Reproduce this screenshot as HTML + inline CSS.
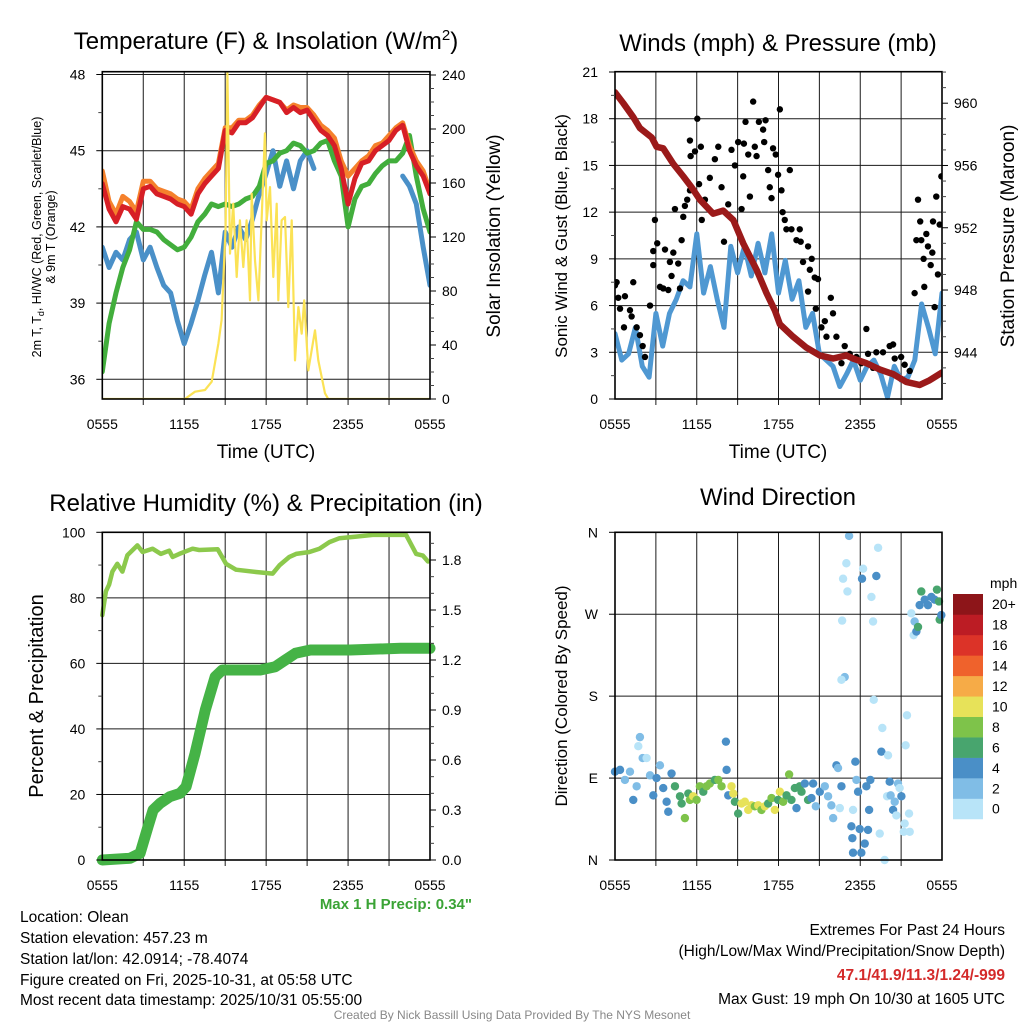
<!DOCTYPE html>
<html><head><meta charset="utf-8"><title>Mesonet Olean</title>
<style>
html,body{margin:0;padding:0;background:#fff;}
svg{display:block;font-family:"Liberation Sans",Arial,sans-serif;}
</style></head>
<body>
<svg id="chart" width="1024" height="1024" viewBox="0 0 1024 1024" xmlns="http://www.w3.org/2000/svg">
<rect x="0" y="0" width="1024" height="1024" fill="#fff"/>
<text x="266" y="49" font-size="24" text-anchor="middle">Temperature (F) &amp; Insolation (W/m<tspan font-size="15" dy="-9">2</tspan><tspan dy="9">)</tspan></text>
<text x="778" y="51" font-size="24" text-anchor="middle">Winds (mph) &amp; Pressure (mb)</text>
<text x="266" y="511" font-size="24" text-anchor="middle">Relative Humidity (%) &amp; Precipitation (in)</text>
<text x="778" y="505" font-size="24" text-anchor="middle">Wind Direction</text>
<text x="266" y="458" font-size="19" text-anchor="middle">Time (UTC)</text>
<text x="778" y="458" font-size="19" text-anchor="middle">Time (UTC)</text>
<text transform="translate(41,237) rotate(-90)" font-size="12.5" text-anchor="middle">2m T, T<tspan font-size="9" dy="3">d</tspan><tspan dy="-3">, HI/WC (Red, Green, Scarlet/Blue)</tspan></text>
<text transform="translate(55,237) rotate(-90)" font-size="12.5" text-anchor="middle">&amp; 9m T (Orange)</text>
<text transform="translate(500,236) rotate(-90)" font-size="19" text-anchor="middle">Solar Insolation (Yellow)</text>
<text transform="translate(567,236) rotate(-90)" font-size="17" text-anchor="middle">Sonic Wind &amp; Gust (Blue, Black)</text>
<text transform="translate(1014,236) rotate(-90)" font-size="19" text-anchor="middle">Station Pressure (Maroon)</text>
<text transform="translate(43,696) rotate(-90)" font-size="20" text-anchor="middle">Percent &amp; Precipitation</text>
<text transform="translate(567,696) rotate(-90)" font-size="17" text-anchor="middle">Direction (Colored By Speed)</text>
<text x="472" y="909" font-size="15" font-weight="bold" fill="#3aa335" text-anchor="end">Max 1 H Precip: 0.34"</text>
<g font-size="15.5">
<text x="20" y="922">Location: Olean</text>
<text x="20" y="943">Station elevation: 457.23 m</text>
<text x="20" y="964">Station lat/lon: 42.0914; -78.4074</text>
<text x="20" y="985">Figure created on Fri, 2025-10-31, at 05:58 UTC</text>
<text x="20" y="1005">Most recent data timestamp: 2025/10/31 05:55:00</text>
</g>
<g font-size="15.5" text-anchor="end">
<text x="1005" y="935">Extremes For Past 24 Hours</text>
<text x="1005" y="956">(High/Low/Max Wind/Precipitation/Snow Depth)</text>
<text x="1005" y="980" font-weight="bold" fill="#d42a2a">47.1/41.9/11.3/1.24/-999</text>
<text x="1005" y="1004">Max Gust: 19 mph On 10/30 at 1605 UTC</text>
</g>
<text x="512" y="1019" font-size="12" fill="#888" text-anchor="middle">Created By Nick Bassill Using Data Provided By The NYS Mesonet</text>
<text x="990" y="588" font-size="14">mph</text>
</svg>
<script>
const timeLabels = ['0555','1155','1755','2355','0555'];
const timeTickHours = [0,6,12,18,24];
const tempTicks = [36,39,42,45,48];
const insolTicks = [0,40,80,120,160,200,240];
const windTicks = [0,3,6,9,12,15,18,21];
const pressTicks = [944,948,952,956,960];
const rhTicks = [0,20,40,60,80,100];
const precipTicks = ['0.0','0.3','0.6','0.9','1.2','1.5','1.8'];
const dirLabels = ['N','E','S','W','N'];
const dirTickDeg = [0,90,180,270,360];
const speedBins = ['0','2','4','6','8','10','12','14','16','18','20+'];
const speedColors = ['#b8e4f8','#80bde6','#4a8fc7','#48a56e','#7ec34a','#e7e259','#f6ab47','#ef622c','#dc3328','#bc1c24','#8d1519'];

const tempRed = [43.7,42.7,42.2,42.8,42.7,42.3,43.5,43.6,43.3,43.2,43.1,42.9,42.8,42.5,43.3,43.7,44.0,44.3,45.8,45.7,46.1,46.1,46.3,46.7,47.1,47.0,46.9,46.5,46.7,46.5,46.6,46.2,45.8,45.6,45.2,44.3,42.9,43.9,44.5,44.6,45.0,45.2,45.4,45.8,46.0,45.0,44.4,44.0,43.3];
const tempOrange = [44.2,43.0,42.5,43.2,43.0,42.6,43.8,43.8,43.5,43.4,43.3,43.1,43.0,42.7,43.5,43.9,44.2,44.5,45.9,45.9,46.2,46.2,46.4,46.8,47.1,47.0,46.9,46.6,46.8,46.7,46.7,46.4,46.0,45.8,45.5,44.6,44.0,44.3,44.6,44.8,45.2,45.3,45.6,45.9,46.1,45.2,44.6,44.2,43.4];
const dewGreen = [36.3,38.2,39.4,40.4,41.1,42.2,41.9,41.9,41.8,41.5,41.3,41.1,41.2,41.6,42.2,42.5,42.9,42.8,42.9,42.8,42.9,43.1,43.2,43.6,44.5,44.6,44.9,45.0,45.3,45.2,44.9,45.0,45.3,45.4,44.6,44.0,42.0,43.1,43.6,43.7,44.1,44.4,44.6,44.6,44.9,45.6,44.0,42.7,41.8];
const tempBlue = [41.2,40.4,41.0,40.7,41.5,41.8,40.7,41.2,40.4,39.7,39.4,38.3,37.4,38.2,39.1,40.1,41.0,39.4,41.8,41.2,42.0,41.5,42.3,43.3,44.1,45.0,43.6,44.6,43.5,44.6,45.0,44.3,null,null,null,null,null,null,null,null,null,null,null,null,44.0,43.6,42.9,41.2,39.7];
const insolHours = [0,6.05,6.79,7.52,8.01,8.5,8.74,9.03,9.16,9.35,9.59,9.84,10.08,10.33,10.57,10.82,10.94,11.18,11.43,11.67,11.91,12.04,12.28,12.52,12.77,12.89,13.13,13.38,13.62,13.87,14.11,14.36,14.6,14.79,15.09,15.58,15.82,16.31,16.55,24];
const insolValues = [0,0,5.4,6.7,12.8,41.2,58.5,127,242,107.7,144.7,90.4,132.3,97.8,132.3,73.1,152.1,102.7,73.1,132.3,196.8,132.3,157,90.4,144.7,73.1,132.3,134.8,68.1,132.3,28.6,68.1,48.4,73.1,21.2,50.9,28.6,4.2,0,0];

const windSpeed = [4.2,2.5,2.9,4.6,2.1,1.4,5.5,3.4,5.5,6.4,7.6,7.2,10.6,6.8,8.5,6.4,4.6,9.8,8.1,9.8,7.9,10.0,8.1,10.6,6.8,8.9,6.4,7.6,4.6,5.5,2.9,2.5,2.1,0.8,1.6,2.5,1.2,2.1,2.5,1.6,0.1,2.1,1.2,1.4,2.5,6.1,4.6,2.9,6.8];
const gustHours = [0,0.12,0.24,0.37,0.66,0.73,1.1,1.22,1.34,1.59,1.83,2.03,2.2,2.57,2.81,2.81,2.93,3.1,3.3,3.54,3.67,3.91,4.03,4.15,4.28,4.4,4.64,4.77,4.89,5.01,5.13,5.3,5.5,5.55,5.5,5.87,6.04,6.17,6.3,6.37,6.6,6.96,7.33,7.58,7.82,8.0,8.31,8.55,8.8,9.04,9.29,9.41,9.46,9.58,9.78,9.9,10.14,10.26,10.39,10.56,10.87,10.95,11.05,11.24,11.36,11.49,11.6,11.8,11.97,12.1,12.22,12.3,12.46,12.58,12.83,12.95,13.32,13.56,13.63,13.8,14.17,14.3,14.44,14.66,14.9,14.17,14.74,15.15,15.4,15.52,15.84,16.0,16.25,16.62,16.86,17.23,17.72,18.08,18.45,18.57,18.94,19.18,19.67,20.16,20.41,20.53,21.0,21.26,21.63,21.99,22.12,22.24,22.4,22.48,22.65,22.7,22.85,22.97,23.17,23.29,23.34,23.46,23.58,23.7,23.83,23.95];
const gustValues = [7.3,7.5,6.5,5.8,4.6,6.6,5.7,5.3,7.5,4.6,4.1,3.4,2.7,6.0,8.6,9.5,11.5,10.0,7.2,7.1,9.6,7.0,8.8,7.9,9.4,12.2,8.7,7.1,10.2,11.7,12.4,12.8,13.4,15.6,16.6,15.9,18.0,13.8,16.2,11.5,12.8,14.2,15.4,16.2,13.6,10.1,12.5,16.0,15.0,16.5,12.2,14.3,16.4,17.8,15.7,13.0,19.1,16.2,15.6,17.8,17.3,16.5,17.9,14.7,13.6,12.9,16.1,15.7,14.4,18.6,13.4,12.0,11.5,10.9,14.7,10.9,10.2,10.9,10.1,8.8,9.8,8.3,9.0,7.8,7.7,6.9,5.8,4.6,5.0,4.0,6.5,5.5,4.0,2.3,3.4,2.9,2.7,2.3,4.5,2.9,2.0,3.0,3.0,3.4,3.5,2.6,2.7,2.2,1.8,6.8,10.2,12.8,11.4,10.2,9.0,7.2,10.6,9.8,8.6,9.4,11.4,5.9,13.0,8.0,11.2,14.3];
const pressHours = [0,0.61,1.34,1.83,2.69,3.05,3.54,4.28,5.01,5.62,6.23,7.21,7.94,8.68,9.41,10.39,11.12,11.73,12.1,13.07,14.05,15.03,16.01,16.98,17.47,18.45,19.43,20.41,21.38,22.36,23.09,24];
const pressValues = [960.7,960.0,959.1,958.4,957.8,957.2,957.1,956.1,955.3,954.6,953.8,952.9,953.1,952.5,951.0,949.3,947.8,946.7,945.8,945.0,944.3,943.8,943.6,943.8,943.6,943.3,942.9,942.6,942.1,941.9,942.2,942.7];

const rhHours = [0,0.26,0.5,0.74,1.1,1.47,1.84,2.57,2.95,3.68,4.29,4.9,5.15,5.64,6.61,7.1,8.45,9.06,9.79,11.26,12.48,12.97,13.7,14.19,15.17,15.9,16.63,17.37,18.59,19.81,22.25,22.99,23.48,23.85];
const rhValues = [74.7,82,84,88,90.4,88,93,96,94,95,93.4,94.4,92.5,93.4,95,94.6,94.8,90.4,88.6,87.9,87.4,89.9,92.5,93.4,94,95,97,98.2,98.7,99.2,99.2,93.4,92.9,91.1];
const precipHours = [0,2.03,2.77,3.35,3.72,4.23,4.94,5.7,6.14,6.8,7.54,8.27,8.79,10.1,11.57,12.67,13.4,14.14,15.24,18.18,21.85,24];
const precipValues = [0,0.01,0.04,0.2,0.3,0.34,0.38,0.4,0.44,0.64,0.9,1.1,1.14,1.14,1.14,1.16,1.2,1.24,1.26,1.26,1.27,1.27];

const dirHours = [0,0.37,0.73,1.1,1.34,1.59,1.83,1.71,2.03,2.32,2.57,2.81,3.05,3.3,3.54,3.79,3.91,4.15,4.4,4.77,4.89,5.13,5.38,5.5,5.74,5.99,6.23,6.48,6.72,6.96,7.33,7.58,7.82,8.14,8.19,8.31,8.55,8.68,8.8,9.04,9.29,9.53,9.78,10.02,10.26,10.51,10.75,11.0,11.24,11.49,11.73,11.97,12.1,12.34,12.59,12.78,12.95,13.2,13.32,13.56,13.69,13.93,14.17,14.42,14.54,14.74,15.03,15.4,15.64,15.88,16.01,16.25,16.37,16.5,16.62,16.86,16.62,16.67,16.74,16.98,17.06,17.18,17.47,17.35,17.42,17.47,17.64,17.72,17.84,17.96,18.08,18.13,18.21,18.33,18.45,18.57,18.65,18.74,18.82,18.94,18.99,19.18,19.31,19.43,19.55,19.62,19.79,19.97,20.04,20.16,20.23,20.41,20.53,20.65,20.77,20.89,21.02,21.19,21.26,21.33,21.43,21.58,21.63,21.75,21.92,21.99,22.12,22.24,22.36,22.48,22.73,22.97,23.22,23.46,23.63,23.78,23.83,23.95];
const dirDegrees = [97,99,88,97,66,81,135,125,112,112,93,71,90,104,79,64,53,95,81,70,62,46,73,66,70,66,81,75,81,84,88,88,81,130,99,71,81,73,64,51,62,64,55,60,59,60,55,59,62,68,55,66,75,64,71,94,66,79,57,81,75,84,66,68,84,59,75,81,70,60,46,104,101,57,81,201,198,263,309,326,295,356,55,37,24,8,108,88,75,34,8,309,320,18,81,33,55,88,289,262,176,312,343,29,119,145,0,70,115,86,71,55,64,49,84,79,70,31,40,126,159,51,31,271,247,262,251,256,280,295,286,280,289,286,297,284,264,269];
const dirSpeeds = [5,5,3,3,5,3,3,1,3,1,3,5,5,3,5,5,5,5,7,7,7,9,7,9,11,9,9,7,9,9,7,9,9,5,5,5,11,11,7,7,11,11,11,11,9,11,9,11,7,9,11,7,11,9,7,9,7,7,5,7,7,5,7,5,5,3,5,3,3,3,3,5,3,1,5,3,1,1,1,1,1,3,1,5,5,5,5,3,5,5,5,5,1,5,5,5,5,5,1,1,1,5,1,1,5,1,1,1,1,5,3,5,3,1,3,1,5,1,1,1,1,1,1,1,1,3,5,7,5,7,5,5,5,5,7,7,7,5];

const NS = 'http://www.w3.org/2000/svg';
const svg = document.getElementById('chart');
function mk(tag, attrs, name, parent) {
  const el = document.createElementNS(NS, tag);
  for (const k in attrs) el.setAttribute(k, attrs[k]);
  
  
  (parent || svg).appendChild(el);
  return el;
}
function lin(d0, d1, r0, r1) { return v => r0 + (v - d0) / (d1 - d0) * (r1 - r0); }

const P = {
  tl: {x0:102.3, x1:430, y0:71.7, y1:399},
  tr: {x0:615, x1:942, y0:71.7, y1:399},
  bl: {x0:102.3, x1:430, y0:532.3, y1:860},
  br: {x0:615, x1:942, y0:532.3, y1:860}
};
const xTL = lin(0, 24, P.tl.x0, P.tl.x1);
const xTR = lin(0, 24, P.tr.x0, P.tr.x1);
const yTemp = lin(36, 48, 379.3, 74.5);
const yIns = lin(0, 240, 399, 75);
const yWind = lin(0, 21, 399, 72);
const yPress = lin(944, 960, 352.3, 103.2);
const yRH = lin(0, 100, 860, 532.3);
const yPr = lin(0, 1.8, 860, 560);
const yDir = lin(0, 360, 860, 532.3);

function pathFrom(xs, ys) {
  let d = '', pen = false;
  for (let i = 0; i < xs.length; i++) {
    if (ys[i] === null) { pen = false; continue; }
    d += (pen ? 'L' : 'M') + xs[i].toFixed(1) + ',' + ys[i].toFixed(1);
    pen = true;
  }
  return d;
}
function idxHours(arr) { return arr.map((v, i) => i * 24 / (arr.length - 1)); }

function frame(p, key, vGrid, hGridYs, xMap) {
  const g = mk('g', {}, key + '-axes');
  hGridYs.forEach(y => {
    mk('line', {x1:p.x0, x2:p.x1, y1:y, y2:y, stroke:'#1a1a1a', 'stroke-width':1}, key + '-h-gridline', g);
  });
  vGrid.forEach(h => {
    const x = xMap(h);
    mk('line', {x1:x, x2:x, y1:p.y0, y2:p.y1 + 6, stroke:'#1a1a1a', 'stroke-width':1}, key + '-v-gridline', g);
  });
  return g;
}
function borderBox(p, key) {
  mk('rect', {x:p.x0, y:p.y0, width:p.x1 - p.x0, height:p.y1 - p.y0, fill:'none', stroke:'#000', 'stroke-width':1.6}, key + '-plot-frame');
}
function leftTicks(p, key, vals, ymap, labels, minor) {
  const g = mk('g', {'font-size':14, 'text-anchor':'end'}, key + '-left-axis');
  vals.forEach((v, i) => {
    const y = ymap(v);
    mk('line', {x1:p.x0 - 6, x2:p.x0, y1:y, y2:y, stroke:'#000', 'stroke-width':1}, key + '-left-tick', g);
    const t = mk('text', {x:p.x0 - 17, y:y + 5}, key + '-left-tick-label', g);
    t.textContent = labels ? labels[i] : v;
  });
  (minor || []).forEach(v => {
    const y = ymap(v);
    mk('line', {x1:p.x0 - 4, x2:p.x0, y1:y, y2:y, stroke:'#444', 'stroke-width':1}, key + '-left-minor-tick', g);
  });
}
function rightTicks(p, key, vals, ymap, labels, minor) {
  const g = mk('g', {'font-size':14, 'text-anchor':'start'}, key + '-right-axis');
  vals.forEach((v, i) => {
    const y = ymap(v);
    mk('line', {x1:p.x1, x2:p.x1 + 6, y1:y, y2:y, stroke:'#000', 'stroke-width':1}, key + '-right-tick', g);
    const t = mk('text', {x:p.x1 + 12, y:y + 5}, key + '-right-tick-label', g);
    t.textContent = labels ? labels[i] : v;
  });
  (minor || []).forEach(v => {
    const y = ymap(v);
    mk('line', {x1:p.x1, x2:p.x1 + 4, y1:y, y2:y, stroke:'#444', 'stroke-width':1}, key + '-right-minor-tick', g);
  });
}
function bottomLabels(p, key, xMap, off) {
  const g = mk('g', {'font-size':14, 'text-anchor':'middle'}, key + '-x-axis');
  timeTickHours.forEach((h, i) => {
    const t = mk('text', {x:xMap(h), y:p.y1 + off}, key + '-x-tick-label', g);
    t.textContent = timeLabels[i];
  });
}
const vHours = [3,6,9,12,15,18,21];
function range(a, b, s) { const r = []; for (let v = a; v <= b + 1e-9; v += s) r.push(+v.toFixed(3)); return r; }

frame(P.tl, 'temp', vHours, tempTicks.map(yTemp), xTL);
const tlClip = mk('clipPath', {id:'clipTL'}, 'temp-clip');
mk('rect', {x:P.tl.x0, y:P.tl.y0 - 2, width:P.tl.x1 - P.tl.x0, height:P.tl.y1 - P.tl.y0 + 2}, 'temp-clip-rect', tlClip);
const gTL = mk('g', {'clip-path':'url(#clipTL)', fill:'none', 'stroke-linejoin':'round', 'stroke-linecap':'round'}, 'temp-series');
mk('path', {d:pathFrom(idxHours(tempBlue).map(xTL), tempBlue.map(v => v === null ? null : yTemp(v))), stroke:'#4a90c8', 'stroke-width':5}, 'temp-9m-blue-line', gTL);
mk('path', {d:pathFrom(idxHours(dewGreen).map(xTL), dewGreen.map(yTemp)), stroke:'#42ae3c', 'stroke-width':5}, 'dewpoint-green-line', gTL);
mk('path', {d:pathFrom(idxHours(tempOrange).map(xTL), tempOrange.map(yTemp)), stroke:'#f5812c', 'stroke-width':5}, 'temp-orange-line', gTL);
mk('path', {d:pathFrom(idxHours(tempRed).map(xTL), tempRed.map(yTemp)), stroke:'#d71f26', 'stroke-width':5}, 'temp-red-line', gTL);
mk('path', {d:pathFrom(insolHours.map(xTL), insolValues.map(yIns)), stroke:'#fbe255', 'stroke-width':2.2}, 'insolation-yellow-line', gTL);
borderBox(P.tl, 'temp');
leftTicks(P.tl, 'temp', tempTicks, yTemp, null, [37.5,40.5,43.5,46.5]);
rightTicks(P.tl, 'insolation', insolTicks, yIns, null, range(10, 230, 10).filter(v => v % 40));
bottomLabels(P.tl, 'temp', xTL, 30);

frame(P.tr, 'wind', vHours, windTicks.slice(1, 7).map(yWind), xTR);
const trClip = mk('clipPath', {id:'clipTR'}, 'wind-clip');
mk('rect', {x:P.tr.x0, y:P.tr.y0, width:P.tr.x1 - P.tr.x0, height:P.tr.y1 - P.tr.y0 + 3}, 'wind-clip-rect', trClip);
const gTR = mk('g', {'clip-path':'url(#clipTR)', 'stroke-linejoin':'round', 'stroke-linecap':'round'}, 'wind-series');
mk('path', {d:pathFrom(idxHours(windSpeed).map(xTR), windSpeed.map(yWind)), stroke:'#4f98d2', 'stroke-width':5, fill:'none'}, 'sonic-wind-line', gTR);
gustHours.forEach((h, i) => {
  mk('circle', {cx:xTR(h), cy:yWind(gustValues[i]), r:3.2, fill:'#000'}, 'gust-point', gTR);
});
mk('path', {d:pathFrom(pressHours.map(xTR), pressValues.map(yPress)), stroke:'#9b1a1a', 'stroke-width':6.5, fill:'none'}, 'pressure-line', gTR);
borderBox(P.tr, 'wind');
leftTicks(P.tr, 'wind', windTicks, yWind, null, [1.5,4.5,7.5,10.5,13.5,16.5,19.5]);
rightTicks(P.tr, 'pressure', pressTicks, yPress, null, range(942, 962, 1).filter(v => v % 4));
bottomLabels(P.tr, 'wind', xTR, 30);

frame(P.bl, 'rh', vHours, [20,40,60,80].map(yRH), xTL);
const gBL = mk('g', {fill:'none', 'stroke-linejoin':'round', 'stroke-linecap':'round'}, 'rh-series');
mk('path', {d:pathFrom(rhHours.map(xTL), rhValues.map(yRH)), stroke:'#8cc94c', 'stroke-width':4.5}, 'rh-line', gBL);
mk('path', {d:pathFrom(precipHours.map(xTL), precipValues.map(yPr)), stroke:'#45b346', 'stroke-width':11}, 'precip-line', gBL);
borderBox(P.bl, 'rh');
leftTicks(P.bl, 'rh', rhTicks, yRH, null, [10,30,50,70,90]);
rightTicks(P.bl, 'precip', precipTicks.map(Number), yPr, precipTicks, range(0.1, 1.9, 0.1).filter(v => Math.round(v * 10) % 3));
bottomLabels(P.bl, 'rh', xTL, 30);

frame(P.br, 'direction', vHours, [90,180,270].map(yDir), xTR);
const gBR = mk('g', {}, 'direction-points');
function speedColor(s) { return speedColors[Math.min(10, Math.floor(s / 2))]; }
dirHours.forEach((h, i) => {
  mk('circle', {cx:xTR(h), cy:yDir(dirDegrees[i]), r:4.2, fill:speedColor(dirSpeeds[i])}, 'direction-point', gBR);
});
borderBox(P.br, 'direction');
leftTicks(P.br, 'direction', dirTickDeg, yDir, dirLabels, []);
bottomLabels(P.br, 'direction', xTR, 30);

const cb = mk('g', {'font-size':14}, 'speed-colorbar');
const cbTop = 594, cbBin = 20.45;
speedBins.forEach((lab, i) => {
  const y = cbTop + (10 - i) * cbBin;
  mk('rect', {x:953, y:y, width:30, height:cbBin + 0.3, fill:speedColors[i]}, 'colorbar-bin', cb);
  const t = mk('text', {x:992, y:y + cbBin / 2 + 5}, 'colorbar-label', cb);
  t.textContent = lab;
});
</script>
</body></html>
